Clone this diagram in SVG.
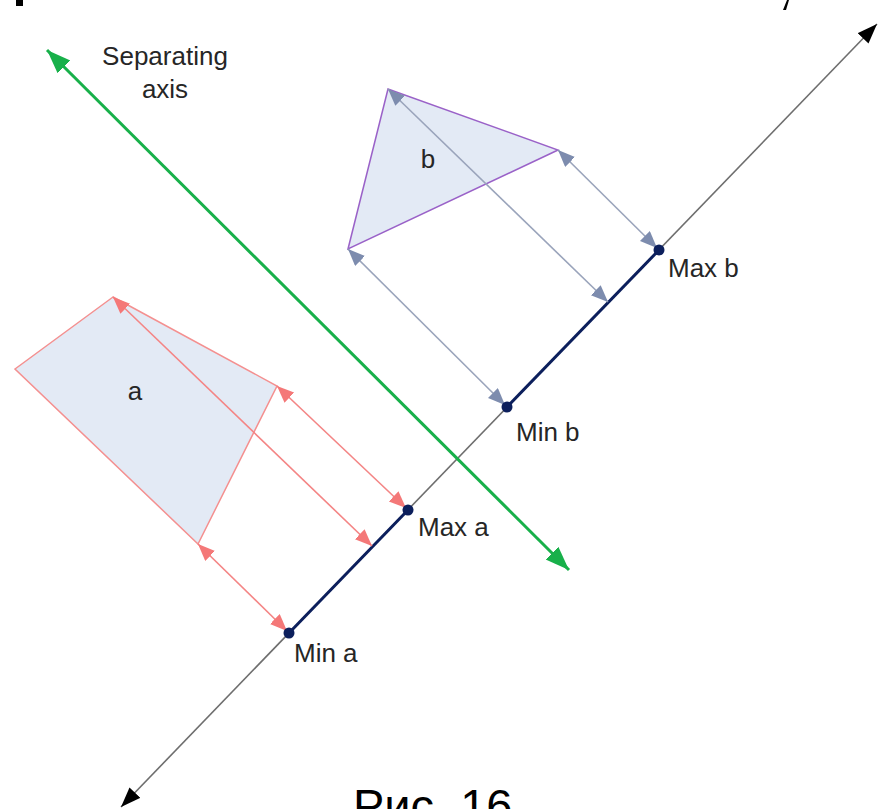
<svg xmlns="http://www.w3.org/2000/svg" width="878" height="809" viewBox="0 0 878 809">
<style>
text{font-family:"Liberation Sans",Arial,sans-serif;fill:#262626}
.lbl{font-size:26px}
.shape{fill:#e3eaf5;stroke-width:1.5}
.pa{stroke:#f48585;stroke-width:1.6;fill:none;marker-start:url(#ra);marker-end:url(#ra)}
.pb{stroke:#9aa4bb;stroke-width:1.6;fill:none;marker-start:url(#ba);marker-end:url(#ba)}
</style>
<defs>
<marker id="ra" markerUnits="userSpaceOnUse" markerWidth="20" markerHeight="16" refX="17" refY="7" orient="auto-start-reverse"><path d="M0,0 L17,7 L0,14 z" fill="#f47878"/></marker>
<marker id="ba" markerUnits="userSpaceOnUse" markerWidth="20" markerHeight="16" refX="17" refY="7" orient="auto-start-reverse"><path d="M0,0 L17,7 L0,14 z" fill="#7d8cae"/></marker>
<marker id="ga" markerUnits="userSpaceOnUse" markerWidth="26" markerHeight="20" refX="24" refY="9" orient="auto-start-reverse"><path d="M0,0 L24,9 L0,18 z" fill="#18b04a"/></marker>
<marker id="ka" markerUnits="userSpaceOnUse" markerWidth="22" markerHeight="18" refX="20" refY="7.5" orient="auto-start-reverse"><path d="M0,0 L20,7.5 L0,15 z" fill="#000"/></marker>
</defs>
<g id="top-fragments">
<rect x="16" y="0" width="7" height="6" fill="#000"/>
<path d="M787,0 L789,0 L786,10 L783,10 z" fill="#000"/>
</g>
<g id="shape-a">
<polygon class="shape" points="113,297 15,369 198,544 277,386" stroke="#f49090"/>
<text class="lbl" x="135" y="400" text-anchor="middle">a</text>
</g>
<g id="shape-b">
<polygon class="shape" points="388,89 348,249 558,150" stroke="#9a62c8"/>
<text class="lbl" x="428" y="168" text-anchor="middle">b</text>
</g>
<g id="connectors">
<line x1="121" y1="807" x2="877" y2="24" stroke="#6e6e6e" stroke-width="1.6" marker-start="url(#ka)" marker-end="url(#ka)"/>
<line x1="289" y1="633" x2="408" y2="510" stroke="#0c1f5c" stroke-width="3"/>
<line x1="507" y1="407" x2="659" y2="250" stroke="#0c1f5c" stroke-width="3"/>
<line x1="47" y1="50" x2="569" y2="570" stroke="#18b04a" stroke-width="3" marker-start="url(#ga)" marker-end="url(#ga)"/>
<line class="pa" x1="277" y1="386" x2="406" y2="508"/>
<line class="pa" x1="113" y1="297" x2="372" y2="546"/>
<line class="pa" x1="198" y1="544" x2="287" y2="631"/>
<line class="pb" x1="558" y1="150" x2="657" y2="248"/>
<line class="pb" x1="388" y1="89" x2="608" y2="302"/>
<line class="pb" x1="348" y1="249" x2="505" y2="405"/>
</g>
<g id="points">
<circle cx="289" cy="633" r="5.5" fill="#0c1f5c"/>
<circle cx="408" cy="510" r="5.5" fill="#0c1f5c"/>
<circle cx="507" cy="407" r="5.5" fill="#0c1f5c"/>
<circle cx="659" cy="250" r="5.5" fill="#0c1f5c"/>
</g>
<g id="labels">
<text class="lbl" x="165" y="65" text-anchor="middle">Separating</text>
<text class="lbl" x="165" y="98" text-anchor="middle">axis</text>
<text class="lbl" x="668" y="277">Max b</text>
<text class="lbl" x="516" y="441">Min b</text>
<text class="lbl" x="418" y="536">Max a</text>
<text class="lbl" x="294" y="662">Min a</text>
<text x="353" y="822" style="font-size:47px;fill:#000">Рис. 16</text>
</g>
</svg>
